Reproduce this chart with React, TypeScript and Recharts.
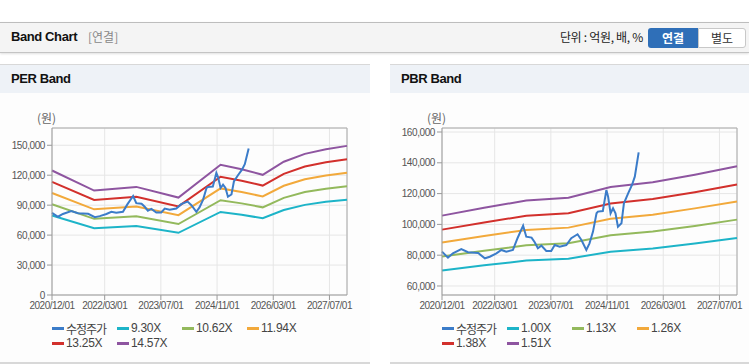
import { LineChart, Line, XAxis, YAxis, CartesianGrid, ReferenceLine } from 'recharts';

// x axis: months since 2020/12
const xTicks = [0, 15, 31, 47, 63, 79];
const xTickLabels = ['2020/12/01', '2022/03/01', '2023/07/01', '2024/11/01', '2026/03/01', '2027/07/01'];

// 수정주가 (same series on both charts)
const priceMonths = [0, 1.7, 3.1, 5.5, 7.4, 10.3, 12.2, 13.6, 15.5, 16.9, 18.3, 20.2, 21.5, 23.1, 24, 25.5, 26.4, 27.3, 28.3, 29.7, 31.1, 32.1, 33.5, 35.4, 36.8, 38.6, 39.7, 41.1, 42, 43, 44, 44.4, 45.8, 46.8, 47.3, 48, 48.7, 49.4, 50.1, 51.1, 51.8, 53, 54.1, 54.9, 56];
const priceValues = [82300, 78400, 81200, 84000, 81900, 81400, 78000, 79000, 81200, 83400, 82300, 83400, 91000, 99200, 92000, 91400, 88400, 84500, 86200, 82700, 82700, 86600, 85500, 86600, 91000, 93600, 89900, 83400, 87700, 95300, 107200, 108300, 108700, 122300, 118000, 107200, 110500, 107200, 98500, 100700, 113700, 120200, 125600, 131000, 146800];

// PER bands
const perMonths = [0, 12, 24, 36, 48, 54, 60, 66, 72, 78, 84];
const per930 = [79600, 66800, 69100, 62300, 83200, 80400, 76900, 85200, 90300, 93300, 95400];
const per1062 = [90900, 76300, 78900, 71100, 95000, 91800, 87800, 97300, 103100, 106500, 108900];
const per1194 = [102200, 85800, 88700, 80000, 106800, 103200, 98700, 109400, 115900, 119800, 122500];
const per1325 = [113400, 95200, 98400, 88800, 118500, 114500, 109600, 121400, 128700, 132900, 135900];
const per1457 = [124700, 104600, 108300, 97600, 130400, 126000, 120400, 133500, 141400, 146100, 149400];
const perTicks = [0, 30000, 60000, 90000, 120000, 150000];

// PBR bands
const pbrMonths = [0, 12, 24, 36, 48, 60, 72, 84];
const pbr100 = [70000, 73400, 76500, 77700, 82300, 84400, 87600, 91200];
const pbr113 = [79100, 82900, 86400, 87800, 93000, 95400, 99000, 103100];
const pbr126 = [88200, 92500, 96400, 97900, 103700, 106300, 110400, 114900];
const pbr138 = [96600, 101300, 105600, 107200, 113600, 116500, 120900, 125900];
const pbr151 = [105700, 110800, 115500, 117300, 124300, 127400, 132300, 137700];
const pbrTicks = [60000, 80000, 100000, 120000, 140000, 160000];

const colors = ['#3b7cc9', '#1db4c8', '#93b95c', '#f2a93b', '#d2302c', '#8e55a0'];
const perNames = ['수정주가', '9.30X', '10.62X', '11.94X', '13.25X', '14.57X'];
const pbrNames = ['수정주가', '1.00X', '1.13X', '1.26X', '1.38X', '1.51X'];

const priceData = priceMonths.map((m, i) => ({ m, v: priceValues[i] }));
const toRows = (months: number[], vals: number[]) => months.map((m, i) => ({ m, v: vals[i] }));

const tickFont = "Arial, 'Liberation Sans', sans-serif";
const krFont = "'Noto Sans CJK KR', 'Liberation Sans', Arial, sans-serif";

const fmt = (v: number) => v.toLocaleString('en-US');

interface BandProps {
  left: number;
  names: string[];
  bands: { m: number; v: number }[][];
  domain: [number, number];
  yTicks: number[];
}

const BandChart = ({ left, names, bands, domain, yTicks }: BandProps) => (
  <div style={{ position: 'absolute', left, top: 100, width: 370, height: 262 }}>
    <div style={{ position: 'absolute', left: 37, top: 9, fontFamily: krFont, fontSize: 12, color: '#666' }}>(원)</div>
    <LineChart width={370} height={220} margin={{ top: 28, right: 23, bottom: 5, left: 5 }}>
      <CartesianGrid stroke="#e6e6e6" />
      <XAxis
        type="number"
        dataKey="m"
        domain={[0, 84]}
        ticks={xTicks}
        tickFormatter={(v: number) => xTickLabels[xTicks.indexOf(v)]}
        stroke="#999"
        tickSize={5}
        tickMargin={2}
        height={20}
        interval={0}
        tick={{ fontSize: 10, fill: '#555', fontFamily: tickFont, letterSpacing: -0.5 }}
      />
      <YAxis
        type="number"
        domain={domain}
        ticks={yTicks}
        tickFormatter={fmt}
        stroke="#999"
        tickSize={5}
        tickMargin={2}
        width={47}
        allowDataOverflow
        tick={{ fontSize: 10, fill: '#555', fontFamily: tickFont, letterSpacing: -0.4 }}
      />
      <ReferenceLine y={domain[1]} stroke="#aaa" />
      <ReferenceLine x={84} stroke="#aaa" />
      {bands.map((d, i) => (
        <Line
          key={names[i + 1]}
          data={d}
          dataKey="v"
          type="linear"
          stroke={colors[i + 1]}
          strokeWidth={2}
          dot={false}
          isAnimationActive={false}
        />
      ))}
      <Line data={priceData} dataKey="v" type="linear" stroke={colors[0]} strokeWidth={2} dot={false} isAnimationActive={false} />
    </LineChart>
    {/* legend: 4 columns of 65px, two rows */}
    <div style={{ position: 'absolute', left: 52, top: 221, width: 270, display: 'flex', flexWrap: 'wrap' }}>
      {names.map((n, i) => (
        <div key={n} style={{ width: 65, height: 15, display: 'flex', alignItems: 'center' }}>
          <span style={{ display: 'inline-block', width: 12, height: 3, background: colors[i], marginRight: 2, flexShrink: 0 }} />
          <span
            style={{
              fontFamily: i === 0 ? krFont : tickFont,
              fontSize: 12,
              letterSpacing: i === 0 ? -1 : -0.3,
              color: '#444',
              whiteSpace: 'nowrap',
              lineHeight: '15px',
            }}
          >
            {n}
          </span>
        </div>
      ))}
    </div>
  </div>
);

const PanelHead = ({ left, width, title }: { left: number; width: number; title: string }) => (
  <>
    <div style={{ position: 'absolute', left, top: 64, width, height: 28, background: '#eef2f7', borderTop: '1px solid #d8d8d8' }}>
      <div style={{ position: 'absolute', left: 11, top: 6, fontFamily: 'Arial, sans-serif', fontWeight: 'bold', fontSize: 13, letterSpacing: -0.4, color: '#111' }}>{title}</div>
    </div>
    <div style={{ position: 'absolute', left, top: 93, width, height: 269, background: '#fdfdfd' }} />
    <div style={{ position: 'absolute', left, top: 362, width, height: 2, background: '#d8d8d8' }} />
  </>
);

export default function App() {
  return (
    <div style={{ position: 'fixed', left: 0, top: 0, width: 749, height: 364, background: '#fff', overflow: 'hidden' }}>
      <div style={{ position: 'absolute', left: 0, top: 22, width: 749, height: 29, background: '#f4f4f4', borderTop: '1px solid #bdbdbd', borderBottom: '1px solid #c4c4c4', boxShadow: '0 1px 2px rgba(0,0,0,0.12)' }}>
        <span style={{ position: 'absolute', left: 11, top: 6, fontFamily: 'Arial, sans-serif', fontWeight: 'bold', fontSize: 13, letterSpacing: -0.4, color: '#111' }}>Band Chart</span>
        <span style={{ position: 'absolute', left: 88, top: 6, fontFamily: krFont, fontSize: 12, color: '#888', lineHeight: '16px' }}>[연결]</span>
        <span style={{ position: 'absolute', right: 106, top: 6, fontFamily: krFont, fontSize: 12, color: '#222', lineHeight: '16px', letterSpacing: -0.3 }}>단위 : 억원, 배, %</span>
        <div style={{ position: 'absolute', left: 648, top: 5, width: 50, height: 20, background: '#2f6fb8', borderRadius: '3px 0 0 3px', color: '#fff', fontFamily: krFont, fontWeight: 'bold', fontSize: 12, textAlign: 'center', lineHeight: '20px' }}>연결</div>
        <div style={{ position: 'absolute', left: 698, top: 5, width: 46, height: 18, background: '#fff', border: '1px solid #c8c8c8', borderRadius: '0 3px 3px 0', color: '#333', fontFamily: krFont, fontSize: 12, textAlign: 'center', lineHeight: '18px' }}>별도</div>
      </div>
      <PanelHead left={0} width={370} title="PER Band" />
      <PanelHead left={390} width={359} title="PBR Band" />
      <BandChart
        left={0}
        names={perNames}
        bands={[toRows(perMonths, per930), toRows(perMonths, per1062), toRows(perMonths, per1194), toRows(perMonths, per1325), toRows(perMonths, per1457)]}
        domain={[0, 167300]}
        yTicks={perTicks}
      />
      <BandChart
        left={390}
        names={pbrNames}
        bands={[toRows(pbrMonths, pbr100), toRows(pbrMonths, pbr113), toRows(pbrMonths, pbr126), toRows(pbrMonths, pbr138), toRows(pbrMonths, pbr151)]}
        domain={[54150, 162600]}
        yTicks={pbrTicks}
      />
    </div>
  );
}
